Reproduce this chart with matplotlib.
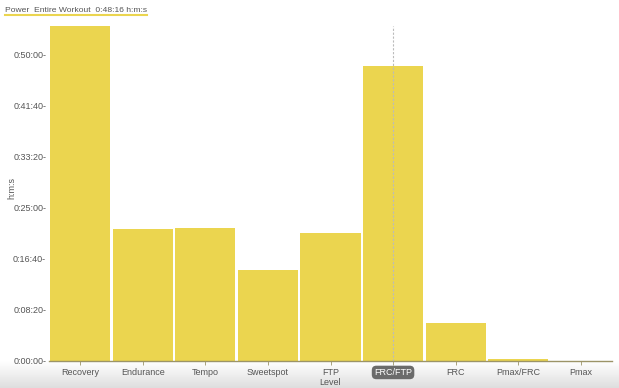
import matplotlib.pyplot as plt
import numpy as np
from matplotlib.ticker import FixedLocator

levels = ["Recovery", "Endurance", "Tempo", "Sweetspot", "FTP", "FRC/FTP", "FRC", "Pmax/FRC", "Pmax"]
seconds = [3284, 1294, 1304, 892, 1255, 2892, 373, 20, 2]
tick_seconds = [0, 500, 1000, 1500, 2000, 2500, 3000]
tick_labels = ["0:00:00", "0:08:20", "0:16:40", "0:25:00", "0:33:20", "0:41:40", "0:50:00"]
highlight = "FRC/FTP"
title_text = "Power  Entire Workout  0:48:16 h:m:s"

bar_color = "#EBD54F"
text_color = "#555555"

plt.rcParams["font.family"] = ["Liberation Sans", "DejaVu Sans"]

fig = plt.figure(figsize=(6.19, 3.88), dpi=100)

# grey gradient strip at the bottom
bg = fig.add_axes([0, 0, 1, 27 / 388], zorder=-10)
grad = np.linspace(0.87, 1.0, 50).reshape(-1, 1)
bg.imshow(grad, aspect="auto", cmap="gray", vmin=0, vmax=1, extent=[0, 1, 0, 1], origin="lower")
bg.axis("off")

ax = fig.add_axes([49 / 619, 1 - 361 / 388, (612 - 49) / 619, (361 - 26) / 388])
ax.patch.set_alpha(0)
x = np.arange(len(levels))
ax.bar(x, seconds, width=0.96, color=bar_color, zorder=2)
ax.set_xlim(-0.5, len(levels) - 0.5)
ax.set_ylim(0, max(seconds))

hi = levels.index(highlight)
ax.axvline(hi, color="#bbbbbb", linestyle=(0, (2, 1.5)), linewidth=0.8, zorder=3)

for s in ["top", "right", "left"]:
    ax.spines[s].set_visible(False)
ax.spines["bottom"].set_color("#9c9468")
ax.spines["bottom"].set_linewidth(1.0)
ax.spines["bottom"].set_zorder(4)

ax.yaxis.set_major_locator(FixedLocator(tick_seconds))
ax.set_yticklabels([t + "-" for t in tick_labels])
ax.tick_params(axis="y", length=0, pad=2, labelsize=6.5, labelcolor=text_color)
ax.set_xticks(x)
ax.set_xticklabels(levels)
ax.tick_params(axis="x", length=3, width=0.6, color="#9c9468", pad=2, labelsize=6.5, labelcolor=text_color)
lbl = ax.get_xticklabels()[hi]
lbl.set_color("white")
lbl.set_bbox(dict(boxstyle="round,pad=0.25,rounding_size=0.5", facecolor="#6b6b6b", edgecolor="none"))

ax.set_xlabel("Level", fontsize=6.5, color=text_color, labelpad=1)
fig.text(12 / 619, 1 - 188 / 388, "h:m:s", rotation=90, fontsize=6.5, color=text_color,
         ha="center", va="center")

t = fig.text(5 / 619, 1 - 10 / 388, title_text, fontsize=6.1, color=text_color, va="center", ha="left")
fig.canvas.draw()
bb = t.get_window_extent()
fig.add_artist(plt.Line2D([bb.x0 / 619, bb.x1 / 619], [1 - 14.5 / 388] * 2, color=bar_color, linewidth=1.5,
                          transform=fig.transFigure))

fig.savefig("out.png", dpi=100)
